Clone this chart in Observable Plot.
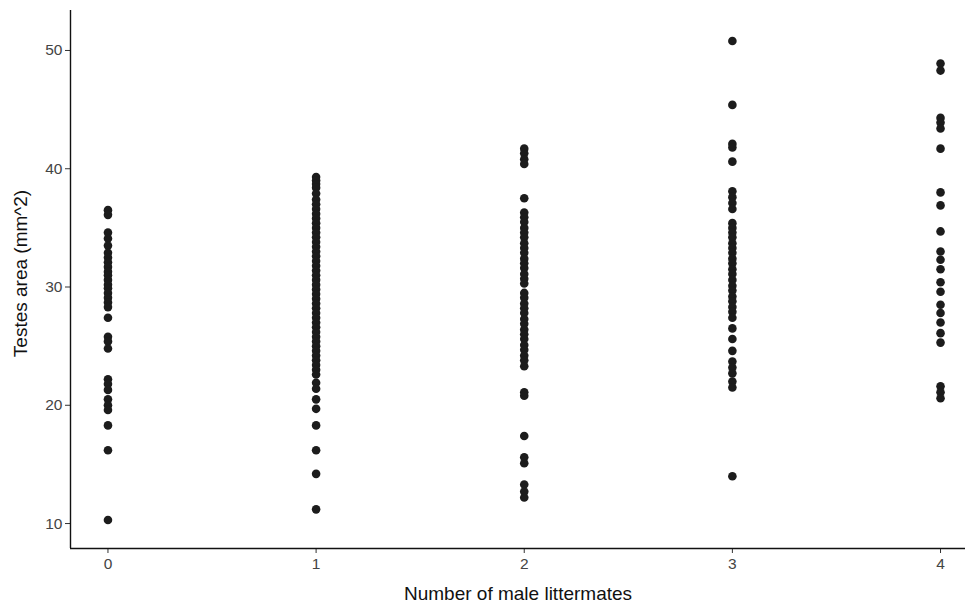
<!DOCTYPE html>
<html>
<head>
<meta charset="utf-8">
<script src="https://cdn.jsdelivr.net/npm/d3@7"></script>
<script src="https://cdn.jsdelivr.net/npm/@observablehq/plot@0.6"></script>
<style>
  html, body { margin: 0; padding: 0; background: #fff; }
  #chart svg { display: block; }
  #chart svg g[aria-label$="tick label"] { font-size: 15.5px !important; }
  #chart svg g[aria-label$="tick label"] text { font-size: 15.5px !important; }
</style>
</head>
<body>
<div id="chart"></div>
<script>
const littermates = [0, 1, 2, 3, 4];
const xTickLabels = ["0", "1", "2", "3", "4"];
const yTicks = [10, 20, 30, 40, 50];
const xTitle = "Number of male littermates";
const yTitle = "Testes area (mm^2)";

const area0 = [36.5, 36.1, 34.6, 34.1, 33.5, 32.9, 32.5, 32.1, 31.7, 31.3, 31.0, 30.6, 30.2, 29.9, 29.5, 29.1, 28.7, 28.3, 27.4, 25.8, 25.4, 24.8, 22.2, 21.8, 21.3, 20.5, 20.0, 19.6, 18.3, 16.2, 10.3];
const area1 = [39.3, 39.0, 38.7, 38.4, 37.9, 37.4, 37.0, 36.6, 36.2, 35.8, 35.4, 35.0, 34.6, 34.2, 33.8, 33.4, 33.0, 32.6, 32.2, 31.8, 31.4, 31.0, 30.6, 30.2, 29.8, 29.4, 29.0, 28.6, 28.2, 27.8, 27.4, 27.0, 26.6, 26.2, 25.8, 25.4, 25.0, 24.6, 24.2, 23.8, 23.4, 23.0, 22.6, 21.9, 21.4, 20.5, 19.7, 18.3, 16.2, 14.2, 11.2];
const area2 = [41.7, 41.3, 40.8, 40.4, 37.5, 36.3, 35.9, 35.5, 35.0, 34.6, 34.2, 33.7, 33.3, 32.9, 32.4, 32.0, 31.6, 31.1, 30.7, 30.3, 29.5, 29.1, 28.6, 28.2, 27.8, 27.3, 26.9, 26.4, 26.0, 25.6, 25.1, 24.7, 24.2, 23.8, 23.3, 21.1, 20.8, 17.4, 15.6, 15.1, 13.3, 12.7, 12.2];
const area3 = [50.8, 45.4, 42.1, 41.8, 40.6, 38.1, 37.6, 37.1, 36.6, 35.4, 35.0, 34.6, 34.2, 33.7, 33.3, 32.9, 32.4, 32.0, 31.5, 31.1, 30.6, 30.1, 29.7, 29.2, 28.8, 28.3, 27.9, 27.4, 26.5, 25.6, 24.6, 23.7, 23.2, 22.7, 22.0, 21.5, 14.0];
const area4 = [48.9, 48.3, 44.3, 43.9, 43.4, 41.7, 38.0, 36.9, 34.7, 33.0, 32.3, 31.5, 30.4, 29.6, 28.5, 27.8, 27.0, 26.1, 25.3, 21.6, 21.1, 20.6];

const series = [area0, area1, area2, area3, area4];
const data = series.flatMap((vals, i) => vals.map(v => ({males: littermates[i], area: v})));

const xDomain = [-0.18, 4.12];
const yDomain = [7.89, 53.38];

const chart = Plot.plot({
  width: 971,
  height: 608,
  marginLeft: 70,
  marginRight: 6,
  marginTop: 10,
  marginBottom: 60,
  style: {fontFamily: "'Liberation Sans', Arial, sans-serif", background: "#fff"},
  x: {domain: xDomain, ticks: littermates, label: null},
  y: {domain: yDomain, ticks: yTicks, label: null},
  marks: [
    Plot.axisX({ticks: littermates, tickFormat: (d, i) => xTickLabels[i], tickSize: 5, tickPadding: 4, fill: "#444", stroke: "#333", label: null}),
    Plot.axisY({ticks: yTicks, tickSize: 5, tickPadding: 3, fill: "#444", stroke: "#333", label: null}),
    Plot.ruleX([xDomain[0]], {stroke: "#111", strokeWidth: 1.4}),
    Plot.ruleY([yDomain[0]], {stroke: "#111", strokeWidth: 1.4}),
    Plot.dot(data, {x: "males", y: "area", r: 4.3, fill: "#1c1c1c", stroke: "none"}),
    Plot.text([xTitle], {frameAnchor: "bottom", dy: 45, text: d => d, fontSize: 19, fill: "#111", textAnchor: "middle", lineAnchor: "middle"}),
    Plot.text([yTitle], {frameAnchor: "left", dx: -50, dy: -6, text: d => d, fontSize: 19, fill: "#111", rotate: -90, textAnchor: "middle", lineAnchor: "middle"})
  ]
});

document.getElementById("chart").appendChild(chart);
</script>
</body>
</html>
